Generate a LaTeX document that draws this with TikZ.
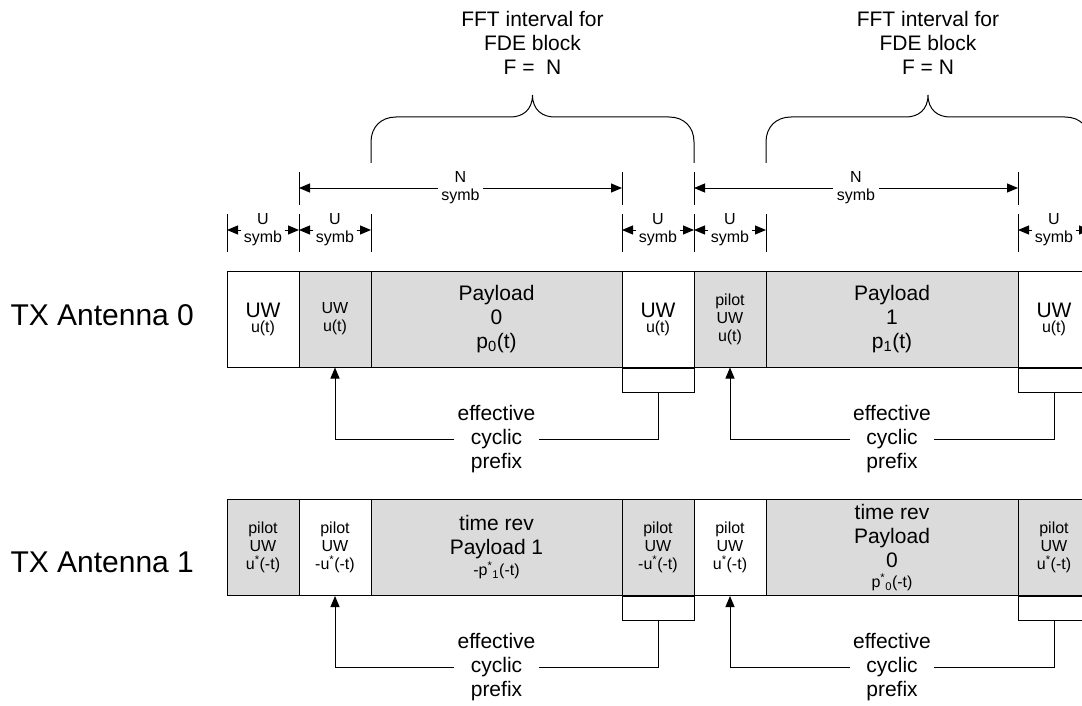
\documentclass[tikz,border=0pt]{standalone}
\usepackage{fontspec}
\setmainfont{Liberation Sans}
\usetikzlibrary{arrows.meta,positioning}
\newcommand{\hugetxt}{\fontsize{30}{36}\selectfont}
\newcommand{\bigtxt}{\fontsize{21}{24}\selectfont}
\newcommand{\smtxt}{\fontsize{16}{18}\selectfont}
\newcommand{\conj}{\textsuperscript{*}}

\begin{document}
\begin{tikzpicture}[x=1pt,y=-1pt,line width=1pt,
        cell/.style = {draw,
            minimum height=96,
            inner sep=0pt,
            align=center,
            font=\smtxt
        },
        shaded/.style = {cell, fill=black!14},
        stub/.style = {draw, minimum width=72, minimum height=24,
            anchor=north, inner sep=0pt},
        dimtip/.style = {-{Triangle[length=11pt,width=9pt]}},
        note/.style = {align=center, font=\bigtxt, inner sep=3pt},
        dimtext/.style = {align=center, font=\smtxt, inner sep=3pt}]

    \useasboundingbox (0,0) rectangle (1082,706);
    \clip (0,0) rectangle (1082,706);

    % FFT interval braces
    \foreach \l/\m/\r in {371/532.5/694, 766/928/1090}
        \draw (\l,163) -- (\l,142) .. controls (\l,127) and (\l+10,117) .. (\l+25,117)
            -- (\m-22,117) .. controls (\m-10,117) and (\m,110) .. (\m,95)
            .. controls (\m,110) and (\m+10,117) .. (\m+22,117)
            -- (\r-25,117) .. controls (\r-10,117) and (\r,127) .. (\r,142) -- (\r,163);
    \node[note] (fft0) at (532.5,43) {FFT interval for\\FDE block\\F =~~N};
    \node[note] (fft1) at (928,43) {FFT interval for\\FDE block\\F = N};

    % N symb dimensions
    \foreach \x/\n in {299/1, 622/2, 694/3, 1018/4} {
        \draw (\x,172) -- (\x,205);
        \coordinate (ntick\n) at (\x,188);
    }
    \node[dimtext] (nd0) at (460.5,188) {N\\symb};
    \node[dimtext] (nd1) at (856,188) {N\\symb};
    \draw[dimtip] (nd0.west) -- (ntick1);
    \draw[dimtip] (nd0.east) -- (ntick2);
    \draw[dimtip] (nd1.west) -- (ntick3);
    \draw[dimtip] (nd1.east) -- (ntick4);

    % U symb dimensions
    \foreach \x/\n in {227/1, 299/2, 371/3, 622/4, 694/5, 766/6, 1018/7, 1090/8} {
        \draw (\x,214) -- (\x,252);
        \coordinate (utick\n) at (\x,230);
    }
    \foreach \c/\l/\r [count=\i] in {263/1/2, 335/2/3, 658/4/5, 730/5/6, 1054/7/8} {
        \node[dimtext, inner sep=2pt] (ud\i) at (\c,230) {U\\symb};
        \draw[dimtip] (ud\i.west) -- (utick\l);
        \draw[dimtip] (ud\i.east) -- (utick\r);
    }

    % TX Antenna 0
    \node[anchor=base west, inner sep=0pt, font=\hugetxt] (tx0) at (10,325) {TX Antenna 0};
    \node[cell, minimum width=72] (a1) at (263,319) {{\bigtxt UW}\\[-3pt]u(t)};
    \node[shaded, minimum width=72] (a2) at (335,319) {UW\\u(t)};
    \node[shaded, minimum width=251, font=\bigtxt] (a3) at (496.5,319)
        {Payload\\0\\p\textsubscript{0}(t)};
    \node[cell, minimum width=72] (a4) at (658,319) {{\bigtxt UW}\\[-3pt]u(t)};
    \node[shaded, minimum width=72] (a5) at (730,319) {pilot\\UW\\u(t)};
    \node[shaded, minimum width=252, font=\bigtxt] (a6) at (892,319)
        {Payload\\1\\p\textsubscript{1}(t)};
    \node[cell, minimum width=72] (a7) at (1054,319) {{\bigtxt UW}\\[-3pt]u(t)};

    % effective cyclic prefix, antenna 0
    \node[stub] (s0) at (a4.south) {};
    \node[stub] (s1) at (a7.south) {};
    \node[note] (cp0) at (496.5,439) {effective\\cyclic\\prefix};
    \node[note] (cp1) at (892,439) {effective\\cyclic\\prefix};
    \draw (s0.south) |- (cp0.east);
    \draw[dimtip] (cp0.west) -| (a2.south);
    \draw (s1.south) |- (cp1.east);
    \draw[dimtip] (cp1.west) -| (a5.south);

    % TX Antenna 1
    \node[anchor=base west, inner sep=0pt, font=\hugetxt] (tx1) at (10,572) {TX Antenna 1};
    \node[shaded, minimum width=72] (b1) at (263,547.5) {pilot\\UW\\u\conj(-t)};
    \node[cell, minimum width=72] (b2) at (335,547.5) {pilot\\UW\\-u\conj(-t)};
    \node[shaded, minimum width=251, font=\bigtxt] (b3) at (496.5,547.5)
        {time rev\\Payload 1\\[-3pt]{\smtxt -p\conj\textsubscript{1}(-t)}};
    \node[shaded, minimum width=72] (b4) at (658,547.5) {pilot\\UW\\-u\conj(-t)};
    \node[cell, minimum width=72] (b5) at (730,547.5) {pilot\\UW\\u\conj(-t)};
    \node[shaded, minimum width=252, font=\bigtxt] (b6) at (892,547.5)
        {time rev\\Payload\\0\\[-4pt]{\smtxt p\conj\textsubscript{0}(-t)}};
    \node[shaded, minimum width=72] (b7) at (1054,547.5) {pilot\\UW\\u\conj(-t)};

    % effective cyclic prefix, antenna 1
    \node[stub] (t0) at (b4.south) {};
    \node[stub] (t1) at (b7.south) {};
    \node[note] (cp2) at (496.5,667) {effective\\cyclic\\prefix};
    \node[note] (cp3) at (892,667) {effective\\cyclic\\prefix};
    \draw (t0.south) |- (cp2.east);
    \draw[dimtip] (cp2.west) -| (b2.south);
    \draw (t1.south) |- (cp3.east);
    \draw[dimtip] (cp3.west) -| (b5.south);

\end{tikzpicture}
\end{document}
